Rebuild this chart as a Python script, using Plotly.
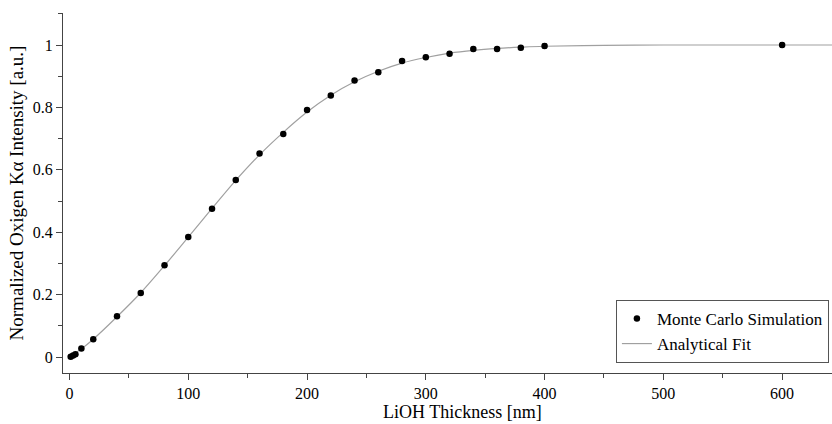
import plotly.graph_objects as go

# Monte Carlo simulation points
mc_thickness = [1, 3, 5, 10, 20, 40, 60, 80, 100, 120, 140, 160, 180, 200, 220,
                240, 260, 280, 300, 320, 340, 360, 380, 400, 600]
mc_intensity = [0.001, 0.005, 0.009, 0.027, 0.057, 0.131, 0.205, 0.294, 0.385, 0.475,
                0.567, 0.652, 0.715, 0.792, 0.838, 0.886, 0.913, 0.949, 0.961, 0.972,
                0.987, 0.987, 0.991, 0.997, 1.0]
mc_error = [0.003, 0.003, 0.003, 0.003, 0.003, 0.003, 0.003, 0.004, 0.004, 0.004,
            0.004, 0.004, 0.005, 0.005, 0.005, 0.005, 0.006, 0.006, 0.006, 0.006,
            0.006, 0.006, 0.006, 0.007, 0.008]

# Analytical fit curve
fit_thickness = [0, 10, 20, 40, 60, 80, 100, 120, 140, 160, 180, 200, 220, 240, 260,
                 280, 300, 320, 340, 360, 380, 400, 450, 500, 550, 600, 645]
fit_intensity = [0.0, 0.026, 0.057, 0.129, 0.206, 0.293, 0.384, 0.476, 0.566, 0.648,
                 0.72, 0.785, 0.839, 0.882, 0.916, 0.942, 0.96, 0.974, 0.983, 0.989,
                 0.993, 0.996, 0.999, 1.0, 1.0, 1.0, 1.0]

x_ticks = [0, 100, 200, 300, 400, 500, 600]
y_ticks = [0, 0.2, 0.4, 0.6, 0.8, 1.0]
y_tick_text = ["0", "0.2", "0.4", "0.6", "0.8", "1"]

x_title = "LiOH Thickness [nm]"
y_title = "Normalized Oxigen Kα Intensity [a.u.]"

FONT = "Liberation Serif"
AXIS_COLOR = "#444444"

fig = go.Figure()
fig.add_trace(go.Scatter(
    x=fit_thickness, y=fit_intensity, mode="lines", name="Analytical Fit",
    line=dict(color="#a0a0a0", width=1.2, shape="spline"), showlegend=True,
))
fig.add_trace(go.Scatter(
    x=mc_thickness, y=mc_intensity, mode="markers", name="Monte Carlo Simulation",
    marker=dict(color="black", size=6.5, symbol="circle"),
    error_y=dict(type="data", array=mc_error, visible=True, color="black",
                 thickness=1, width=2),
))

fig.add_annotation(
    text=x_title, xref="paper", yref="paper", x=0.52, y=-0.1417,
    xanchor="center", yanchor="bottom", showarrow=False,
    font=dict(family=FONT, size=18, color="black"),
)

fig.update_layout(
    width=832, height=424,
    margin=dict(l=63, r=0, t=13, b=51),
    paper_bgcolor="white", plot_bgcolor="white",
    font=dict(family=FONT, size=16, color="black"),
    legend=dict(
        x=0.719, y=0.203, xanchor="left", yanchor="top",
        bordercolor="#555555", borderwidth=1, bgcolor="white",
        font=dict(family=FONT, size=17, color="black"),
        traceorder="reversed", tracegroupgap=0, itemwidth=30,
    ),
    xaxis=dict(
        range=[-5.47, 642], showgrid=False, zeroline=False,
        showline=True, linecolor=AXIS_COLOR, linewidth=1,
        ticks="outside", ticklen=6, tickcolor=AXIS_COLOR,
        tickvals=x_ticks, ticktext=[str(v) for v in x_ticks],
        minor=dict(ticks="outside", ticklen=4, dtick=50, tick0=0, tickcolor=AXIS_COLOR),
        tickfont=dict(size=16),
    ),
    yaxis=dict(
        range=[-0.0513, 1.1026], showgrid=False, zeroline=False,
        showline=True, linecolor=AXIS_COLOR, linewidth=1,
        ticks="outside", ticklen=6, tickcolor=AXIS_COLOR,
        tickvals=y_ticks, ticktext=y_tick_text,
        minor=dict(ticks="outside", ticklen=4, dtick=0.1, tick0=0, tickcolor=AXIS_COLOR),
        title=dict(text=y_title, font=dict(size=19), standoff=4),
        tickfont=dict(size=16),
    ),
)

fig.write_html("out.html")
